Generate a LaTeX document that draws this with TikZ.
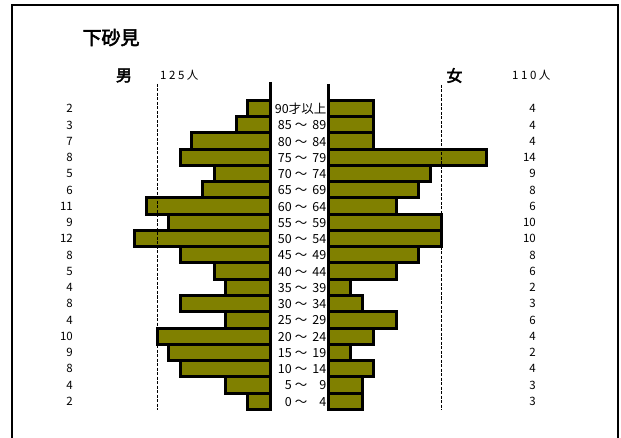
\documentclass[tikz,border=0pt]{standalone}
\usepackage{fontspec}
\setmainfont{Noto Sans CJK JP}
\newfontfamily\cjkb[FakeBold=3]{Noto Sans CJK JP}
\definecolor{olv}{RGB}{128,128,0}
\tikzset{
  bar/.style={draw=black, fill=olv, line width=3pt, line join=miter},
  axisline/.style={line width=3pt},
  scaleline/.style={line width=1.6pt, dash pattern=on 3pt off 1.5pt},
  cnt/.style={inner sep=0pt, font=\fontsize{11.5}{11.5}\selectfont},
  tot/.style={inner sep=0pt, font=\fontsize{11.5}{11.5}\selectfont\addfontfeature{LetterSpace=22}},
  age/.style={inner sep=0pt, font=\fontsize{12.5}{12.5}\selectfont},
  sex/.style={inner sep=0pt, font=\cjkb\fontsize{16}{16}\selectfont},
  ttl/.style={inner sep=0pt, font=\cjkb\fontsize{19}{19}\selectfont}
}
\begin{document}
\begin{tikzpicture}[x=1pt,y=-1pt]
\useasboundingbox (0,0) rectangle (621,438);
% frame
\draw[line width=2pt] (12,445) -- (12,5) -- (618,5) -- (618,445);
% title and headers
\node[ttl] (title) at (111,37.5) {下砂見};
\node[sex] (male) at (124,75.5) {男};
\node[tot,anchor=west] (mtot) at (160,75) {125人};
\node[sex] (female) at (454.5,75.5) {女};
\node[tot,anchor=west] (ftot) at (512,75) {110人};
% male bars
\foreach \m [count=\k from 0] in {2,3,7,8,5,6,11,9,12,8,5,4,8,4,10,9,8,4,2}{
  \draw[bar] ({270.5-11.3*\m},{100.5+16.25*\k}) rectangle (270.5,{116.75+16.25*\k});
  \node[cnt,anchor=base east] (mc\k) at (73,{112.8+16.25*\k}) {\m};
}
% female bars
\foreach \f [count=\k from 0] in {4,4,4,14,9,8,6,10,10,8,6,2,3,6,4,2,4,3,3}{
  \draw[bar] (328.3,{100.5+16.25*\k}) rectangle ({328.3+11.3*\f},{116.75+16.25*\k});
  \node[cnt,anchor=base east] (fc\k) at (536,{112.8+16.25*\k}) {\f};
}
% age labels
\node[age,anchor=base east] (a0) at (326.5,113.6) {90才以上};
\foreach \k in {1,...,18}{
  \pgfmathtruncatemacro{\lo}{90-5*\k}
  \pgfmathtruncatemacro{\hi}{94-5*\k}
  \node[age,anchor=base east] (al\k) at (292,{113.6+16.25*\k}) {\lo};
  \node[age,anchor=base] (at\k) at (301,{113.6+16.25*\k}) {～};
  \node[age,anchor=base east] (ah\k) at (326.5,{113.6+16.25*\k}) {\hi};
}
% axes
\coordinate (lt) at (270.5,82);
\coordinate (lb) at (270.5,411);
\coordinate (rt) at (328.3,84);
\coordinate (rb) at (328.3,411);
\draw[axisline] (lt) -- (lb);
\draw[axisline] (rt) -- (rb);
% scale lines at 10
\coordinate (mst) at (157.5,84);
\coordinate (msb) at (157.5,410);
\coordinate (fst) at (441.3,85);
\coordinate (fsb) at (441.3,410);
\draw[scaleline] (mst) -- (msb);
\draw[scaleline] (fst) -- (fsb);
\end{tikzpicture}
\end{document}
